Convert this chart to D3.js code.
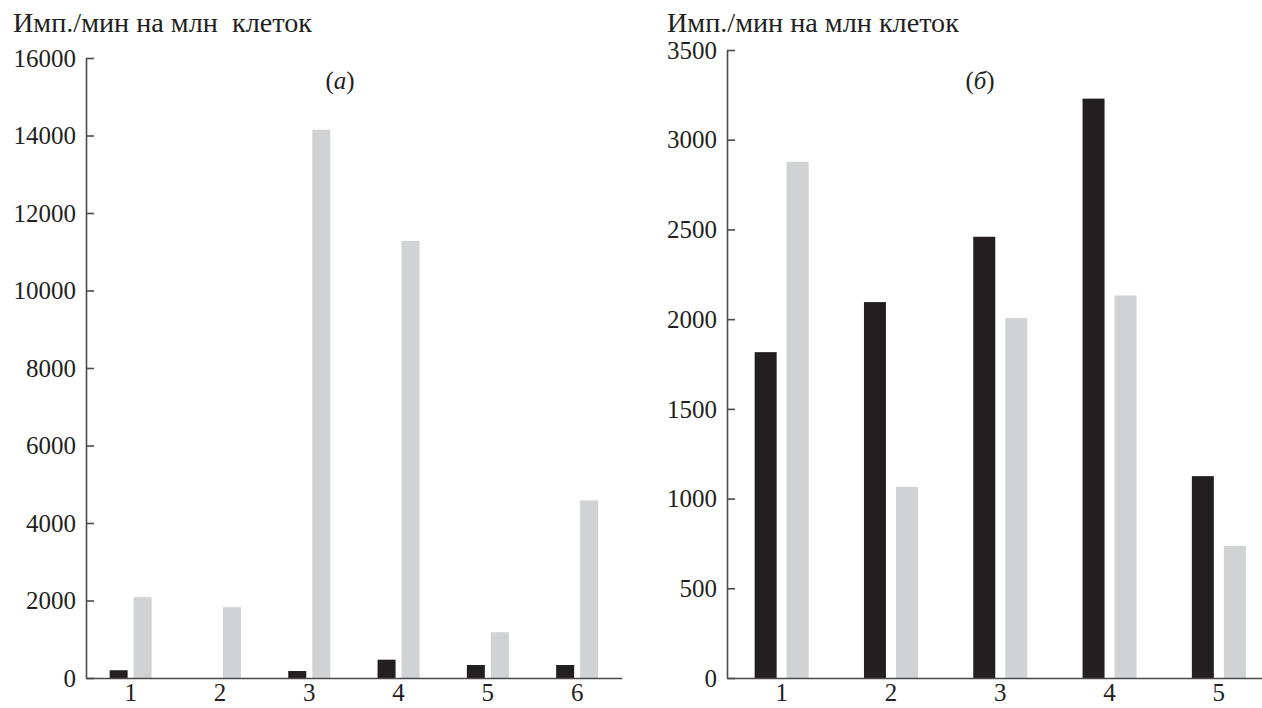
<!DOCTYPE html>
<html><head><meta charset="utf-8">
<script src="https://cdn.jsdelivr.net/npm/d3@7"></script>
<style>
html,body{margin:0;padding:0;background:#fff;}
</style></head>
<body><svg id="c" width="1262" height="708"></svg>
<script>
// Panel (а)
const catsA = ["1","2","3","4","5","6"];
const blackA = [200, 0, 180, 473, 335, 335];
const grayA = [2086, 1828, 14150, 11280, 1183, 4584];
const ticksA = [0, 2000, 4000, 6000, 8000, 10000, 12000, 14000, 16000];
// Panel (б)
const catsB = ["1","2","3","4","5"];
const blackB = [1816, 2095, 2459, 3229, 1125];
const grayB = [2877, 1065, 2006, 2132, 736];
const ticksB = [0, 500, 1000, 1500, 2000, 2500, 3000, 3500];
const yTitle = "Имп./мин на млн клеток";
const yTitleA = "Имп./мин на млн\u00a0 клеток";

const svg = d3.select("#c");
const FS = 25;
const FF = "Liberation Serif";
const INK = "#231f20";

function panel(cfg){
  const g = svg.append("g");
  const x = d3.scaleBand().domain(cfg.cats).range([cfg.x0, cfg.x0 + cfg.cats.length*cfg.step]).paddingInner(0).paddingOuter(0);
  const half = cfg.bw + cfg.gap/2;
  const sub = d3.scaleBand().domain(["b","g"]).range([x.bandwidth()/2 - half, x.bandwidth()/2 + half]).paddingInner(cfg.gap/(cfg.bw+cfg.gap)).paddingOuter(0);
  const y = d3.scaleLinear().domain([0, cfg.ymax]).range([cfg.y0, cfg.yTop]);
  const rows = cfg.cats.map((c,i)=>({c, b:cfg.black[i], g:cfg.gray[i]}));
  const grp = g.selectAll("g.grp").data(rows).join("g").attr("transform", d=>`translate(${x(d.c)},0)`);
  grp.append("rect").attr("x", sub("b")).attr("width", sub.bandwidth())
     .attr("y", d=>y(d.b)).attr("height", d=>y(0)-y(d.b)).attr("fill",INK);
  grp.append("rect").attr("x", sub("g")).attr("width", sub.bandwidth())
     .attr("y", d=>y(d.g)).attr("height", d=>y(0)-y(d.g)).attr("fill","#d1d2d4");
  // y axis
  const ya = g.append("g").attr("transform",`translate(${cfg.x0},0)`)
    .call(d3.axisLeft(y).tickValues(cfg.ticks).tickSize(-8).tickSizeOuter(0).tickPadding(10).tickFormat(d3.format("d")));
  ya.select(".domain").attr("stroke","#4a4a4a").attr("stroke-width",1.6);
  ya.selectAll(".tick line").attr("stroke","#4a4a4a").attr("stroke-width",1.6);
  ya.selectAll(".tick text").attr("font-size",FS).style("font-family",FF).attr("fill",INK).attr("dy","0.33em");
  // x axis
  const xa = g.append("g").attr("transform",`translate(0,${cfg.y0})`)
    .call(d3.axisBottom(x).tickSize(0).tickSizeOuter(0).tickPadding(0));
  xa.select(".domain").attr("stroke","#4a4a4a").attr("stroke-width",1.6);
  xa.selectAll(".tick text").attr("font-size",FS).style("font-family",FF).attr("fill",INK).attr("y",23).attr("dy","0");
  // titles
  const t = g.append("text").attr("x", cfg.titleX).attr("y", 32).attr("font-size",FS).style("font-family",FF).attr("fill",INK).text(cfg.title);
  const w = t.node().getComputedTextLength();
  t.attr("font-size", FS*cfg.titleW/w);
  const pl = g.append("text").attr("x", cfg.plX).attr("y", 89).attr("text-anchor","middle").attr("font-size",FS).style("font-family",FF).attr("fill",INK);
  pl.append("tspan").text("(");
  pl.append("tspan").attr("font-style","italic").text(cfg.pl);
  pl.append("tspan").text(")");
}

panel({cats:catsA, black:blackA, gray:grayA, ticks:ticksA, ymax:16000, x0:86, step:89.3, bw:18, gap:6,
       y0:678, yTop:58, title:yTitleA, titleX:13, titleW:299, plX:340, pl:"a"});
panel({cats:catsB, black:blackB, gray:grayB, ticks:ticksB, ymax:3500, x0:727, step:109.3, bw:22, gap:10,
       y0:678, yTop:50, title:yTitle, titleX:667, titleW:292, plX:980, pl:"б"});
</script></body></html>
